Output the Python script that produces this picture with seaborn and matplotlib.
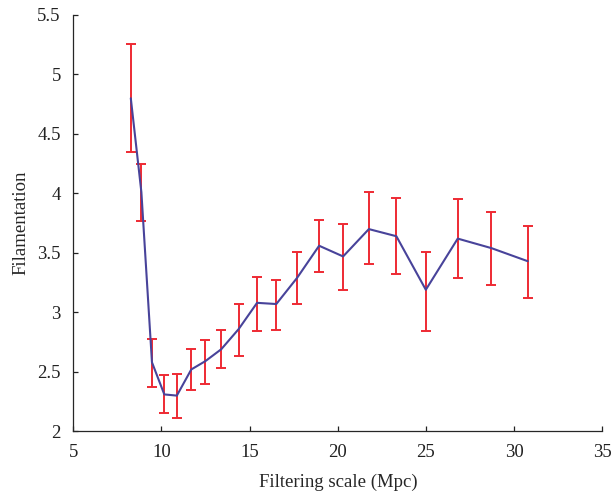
"""Filamentation vs filtering scale, with error bars."""

import matplotlib

matplotlib.use("Agg")
import matplotlib.pyplot as plt
import pandas as pd
import seaborn as sns

scale = [8.26, 8.86, 9.46, 10.16, 10.87, 11.69, 12.49, 13.39, 14.38, 15.42,
         16.51, 17.69, 18.94, 20.30, 21.76, 23.32, 24.99, 26.80, 28.71, 30.77]
filamentation = [4.80, 4.01, 2.58, 2.31, 2.30, 2.52, 2.59, 2.69, 2.86, 3.08,
                 3.07, 3.29, 3.56, 3.47, 3.70, 3.64, 3.19, 3.62, 3.54, 3.43]
err_lo = [4.35, 3.77, 2.37, 2.15, 2.11, 2.35, 2.40, 2.53, 2.63, 2.84,
          2.85, 3.07, 3.34, 3.19, 3.41, 3.32, 2.84, 3.29, 3.23, 3.12]
err_hi = [5.26, 4.25, 2.78, 2.47, 2.48, 2.69, 2.77, 2.85, 3.07, 3.30,
          3.27, 3.51, 3.78, 3.74, 4.01, 3.96, 3.51, 3.95, 3.84, 3.73]

x_ticks = [5, 10, 15, 20, 25, 30, 35]
y_ticks = [2, 2.5, 3, 3.5, 4, 4.5, 5, 5.5]
y_ticklabels = ["2", "2.5", "3", "3.5", "4", "4.5", "5", "5.5"]

df = pd.DataFrame({"scale": scale, "fil": filamentation})

sns.set_style("ticks")
plt.rcParams["font.family"] = ["Liberation Serif", "DejaVu Serif"]
plt.rcParams["xtick.direction"] = "in"
plt.rcParams["ytick.direction"] = "in"

fig = plt.figure(figsize=(6.12, 4.95), dpi=100)
ax = fig.add_axes([0.1198, 0.1287, 0.8644, 0.8410])

lower = [f - lo for f, lo in zip(filamentation, err_lo)]
upper = [hi - f for f, hi in zip(filamentation, err_hi)]
ax.errorbar(scale, filamentation, yerr=[lower, upper], fmt="none",
            ecolor="#ee2a33", elinewidth=1.4, capsize=3.3, capthick=1.4, zorder=2)
sns.lineplot(data=df, x="scale", y="fil", ax=ax, color="#48439a",
             linewidth=1.5, zorder=3)

ax.set_xlim(5, 35)
ax.set_ylim(2, 5.5)
ax.set_xticks(x_ticks)
ax.set_yticks(y_ticks)
ax.set_yticklabels(y_ticklabels)
ax.tick_params(length=3.5, width=0.9, labelsize=13.5, colors="#222222")
ax.tick_params(axis="x", pad=9)
ax.tick_params(axis="y", pad=9)
ax.set_xlabel("Filtering scale (Mpc)", fontsize=13.5, labelpad=9)
ax.set_ylabel("Filamentation", fontsize=13.5, labelpad=6)
ax.spines["top"].set_visible(False)
ax.spines["right"].set_visible(False)
for side in ("left", "bottom"):
    ax.spines[side].set_linewidth(0.9)

fig.savefig("out.png", dpi=100)
